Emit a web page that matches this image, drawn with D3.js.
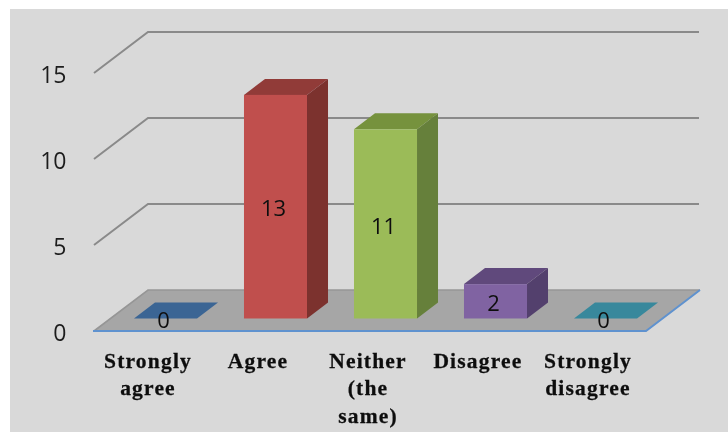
<!DOCTYPE html>
<html><head><meta charset="utf-8">
<script src="https://cdn.jsdelivr.net/npm/d3@7/dist/d3.min.js"></script>
<style>html,body{margin:0;padding:0;background:#fff}svg{display:block}</style>
</head><body><div id="c"></div>
<script>
const categories = ["Strongly agree","Agree","Neither (the same)","Disagree","Strongly disagree"];
const labelLines = [["Strongly","agree"],["Agree"],["Neither","(the","same)"],["Disagree"],["Strongly","disagree"]];
const values = [0,13,11,2,0];
const tickValues = [0,5,10,15];
const frontColors = ["#3b6594","#c0504d","#9bbb59","#8064a2","#37889c"];
const topColors = ["#3b6594","#913b39","#76923c","#604a7b","#37889c"];
const sideColors = ["#3b6594","#7b302e","#66803a","#533f6d","#37889c"];

const W=728,H=432;
const svg=d3.select("#c").append("svg").attr("width",W).attr("height",H);
const defs=svg.append("defs");
defs.append("filter").attr("id","soft").append("feGaussianBlur").attr("stdDeviation",0.5);
svg.append("rect").attr("x",10).attr("y",9).attr("width",W-10).attr("height",H-9).attr("fill","#d9d9d9");
const g=svg.append("g").attr("filter","url(#soft)");

const y=d3.scaleLinear().domain([0,15]).range([331,73]);
const x=d3.scaleBand().domain(categories).range([110.5,660.5]).paddingInner(0.427).paddingOuter(0.2135);
const plot={left:94,right:646,dx:54,dy:41};
const barDepth={dx:21,dy:16},barLift=12.5;

// wall gridlines
tickValues.filter(v=>v>0).forEach(v=>{
  g.append("path").attr("fill","none").attr("stroke","#8a8a8a").attr("stroke-width",2)
   .attr("d",d3.line()([[plot.left,y(v)],[plot.left+plot.dx,y(v)-plot.dy],[plot.right+plot.dx-1,y(v)-plot.dy]]));
});
// floor
const f=y(0);
g.append("path").attr("fill","#a6a6a6")
 .attr("d",d3.line()([[plot.left,f],[plot.left+plot.dx,f-plot.dy],[plot.right+plot.dx,f-plot.dy],[plot.right,f]])+"Z");
g.append("path").attr("fill","none").attr("stroke","#969696").attr("stroke-width",1.6)
 .attr("d",d3.line()([[plot.left,f],[plot.left+plot.dx,f-plot.dy],[plot.right+plot.dx,f-plot.dy]]));
g.append("path").attr("fill","none").attr("stroke","#5f92cf").attr("stroke-width",2)
 .attr("d",d3.line()([[plot.left-1,f],[plot.right,f],[plot.right+plot.dx,f-plot.dy]]));

// bars
categories.forEach((c,i)=>{
  const x0=x(c),x1=x0+x.bandwidth(),y0=y(0)-barLift,y1=y(values[i])-barLift;
  const d=barDepth,line=d3.line();
  g.append("path").attr("fill",topColors[i])
   .attr("d",line([[x0,y1],[x0+d.dx,y1-d.dy],[x1+d.dx,y1-d.dy],[x1,y1]])+"Z");
  if(values[i]>0){
    g.append("path").attr("fill",sideColors[i])
     .attr("d",line([[x1,y1],[x1+d.dx,y1-d.dy],[x1+d.dx,y0-d.dy],[x1,y0]])+"Z");
    g.append("rect").attr("x",x0).attr("y",y1).attr("width",x.bandwidth()).attr("height",y0-y1).attr("fill",frontColors[i]);
  }
});
// data labels
categories.forEach((c,i)=>{
  g.append("text").text(values[i])
   .attr("x",x(c)+x.bandwidth()/2-2).attr("y",(y(values[i])-barLift+y(0)-barLift)/2+2)
   .attr("dy","0.35em").attr("text-anchor","middle")
   .attr("font-family","'Open Sans'").attr("font-size",22).attr("fill","#111");
});
// value axis labels
tickValues.forEach(v=>{
  g.append("text").text(v).attr("x",66.5).attr("y",y(v)+1.5).attr("dy","0.36em").attr("text-anchor","end")
   .attr("font-family","'Open Sans'").attr("font-size",23).attr("fill","#1f1f1f");
});
// category labels
categories.forEach((c,i)=>{
  labelLines[i].forEach((t,j)=>{
    g.append("text").text(t).attr("x",x(c)+x.bandwidth()/2-17.5).attr("y",367.5+j*27.5)
     .attr("text-anchor","middle").attr("font-family","'Liberation Serif'").attr("font-weight","bold")
     .attr("font-size",21.5).attr("letter-spacing",1.2).attr("stroke","#111").attr("stroke-width",0.3).attr("fill","#111");
  });
});
</script></body></html>
